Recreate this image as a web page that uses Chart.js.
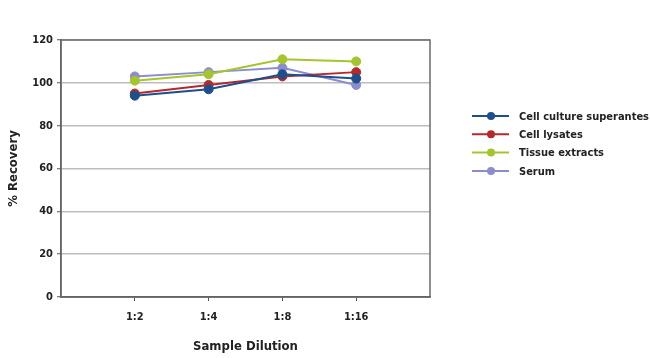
<!DOCTYPE html>
<html>
<head>
<meta charset="utf-8">
<script src="https://cdn.jsdelivr.net/npm/chart.js@4/dist/chart.umd.min.js"></script>
<style>
  html, body { margin: 0; padding: 0; background: #fff; }
  #wrap { width: 650px; height: 358px; }
</style>
</head>
<body>
<div id="wrap"><canvas id="chart"></canvas></div>
<script>
const dilutions = ['1:2', '1:4', '1:8', '1:16'];
const seriesNames = ['Cell culture superantes', 'Cell lysates', 'Tissue extracts', 'Serum'];
const cellCulture = [94, 97, 104, 102];
const cellLysates = [95, 99, 103, 105];
const tissueExtracts = [101, 104, 111, 110];
const serum = [103, 105, 107, 99];
const yTicks = [0, 20, 40, 60, 80, 100, 120];

const colors = ['#1c4f8c', '#b32a2c', '#a5c52f', '#8b8dcc'];
const fontFamily = '"DejaVu Sans", sans-serif';
// chart.js rejects stretch in "style", so it rides along with the weight
const narrowBold = 'condensed bold';

// empty slots at each end give the gap before 1:2 and after 1:16
const labels = [''].concat(dilutions, ['']);
const pad = values => [null].concat(values, [null]);

const datasets = [cellCulture, cellLysates, tissueExtracts, serum].map((values, i) => ({
  label: seriesNames[i],
  data: pad(values),
  borderColor: colors[i],
  backgroundColor: colors[i],
  pointBackgroundColor: colors[i],
  pointBorderColor: colors[i],
  borderWidth: 2,
  pointRadius: 4.5,
  pointBorderWidth: 1,
  tension: 0
}));

const frame = {
  id: 'frame',
  afterDraw(chart) {
    const {ctx, chartArea: a} = chart;
    ctx.save();
    ctx.strokeStyle = '#6a6a6a';
    ctx.lineWidth = 1.5;
    ctx.strokeRect(a.left, a.top, a.right - a.left, a.bottom - a.top);
    ctx.restore();
  }
};

const sideLegend = {
  id: 'sideLegend',
  afterDraw(chart) {
    const ctx = chart.ctx;
    ctx.save();
    ctx.font = narrowBold + ' 11px ' + fontFamily;
    ctx.textBaseline = 'middle';
    chart.data.datasets.forEach((ds, i) => {
      const y = 116 + i * 18.3;
      ctx.strokeStyle = ds.borderColor;
      ctx.lineWidth = 2;
      ctx.beginPath();
      ctx.moveTo(472, y);
      ctx.lineTo(509, y);
      ctx.stroke();
      ctx.fillStyle = ds.borderColor;
      ctx.beginPath();
      ctx.arc(491, y, 4, 0, Math.PI * 2);
      ctx.fill();
      ctx.fillStyle = '#222';
      ctx.fillText(ds.label, 519, y + 1);
    });
    ctx.restore();
  }
};

new Chart(document.getElementById('chart'), {
  type: 'line',
  data: { labels: labels, datasets: datasets },
  plugins: [frame, sideLegend],
  options: {
    responsive: true,
    maintainAspectRatio: false,
    animation: false,
    layout: { padding: { top: 40, right: 220, bottom: 0, left: 0 } },
    plugins: {
      legend: { display: false },
      tooltip: { enabled: false }
    },
    scales: {
      x: {
        offset: false,
        afterFit: s => { s.height = 61; },
        grid: {
          drawOnChartArea: false,
          tickLength: 4,
          lineWidth: 1,
          color: c => (c.index === 0 || c.index === labels.length - 1) ? 'rgba(0,0,0,0)' : '#555'
        },
        border: { display: true, color: '#555', width: 1.5 },
        ticks: {
          autoSkip: false,
          maxRotation: 0,
          padding: 10,
          color: '#222',
          font: { family: fontFamily, size: 11, weight: narrowBold }
        },
        title: {
          display: true,
          text: 'Sample Dilution',
          color: '#222',
          padding: { top: 4, bottom: 4 },
          font: { family: fontFamily, size: 13, weight: narrowBold }
        }
      },
      y: {
        min: 0,
        max: 120,
        afterFit: s => { s.width = 61; },
        afterBuildTicks: s => { s.ticks = yTicks.map(v => ({ value: v })); },
        grid: {
          color: '#bdbdbd',
          lineWidth: 1.5,
          tickLength: 4,
          tickColor: '#555',
          tickWidth: 1
        },
        border: { display: true, color: '#555', width: 1.5 },
        ticks: {
          padding: 4,
          color: '#222',
          font: { family: fontFamily, size: 11, weight: narrowBold }
        },
        title: {
          display: true,
          text: '% Recovery',
          color: '#222',
          padding: { top: 6, bottom: 4 },
          font: { family: fontFamily, size: 13, weight: narrowBold }
        }
      }
    }
  }
});
</script>
</body>
</html>
